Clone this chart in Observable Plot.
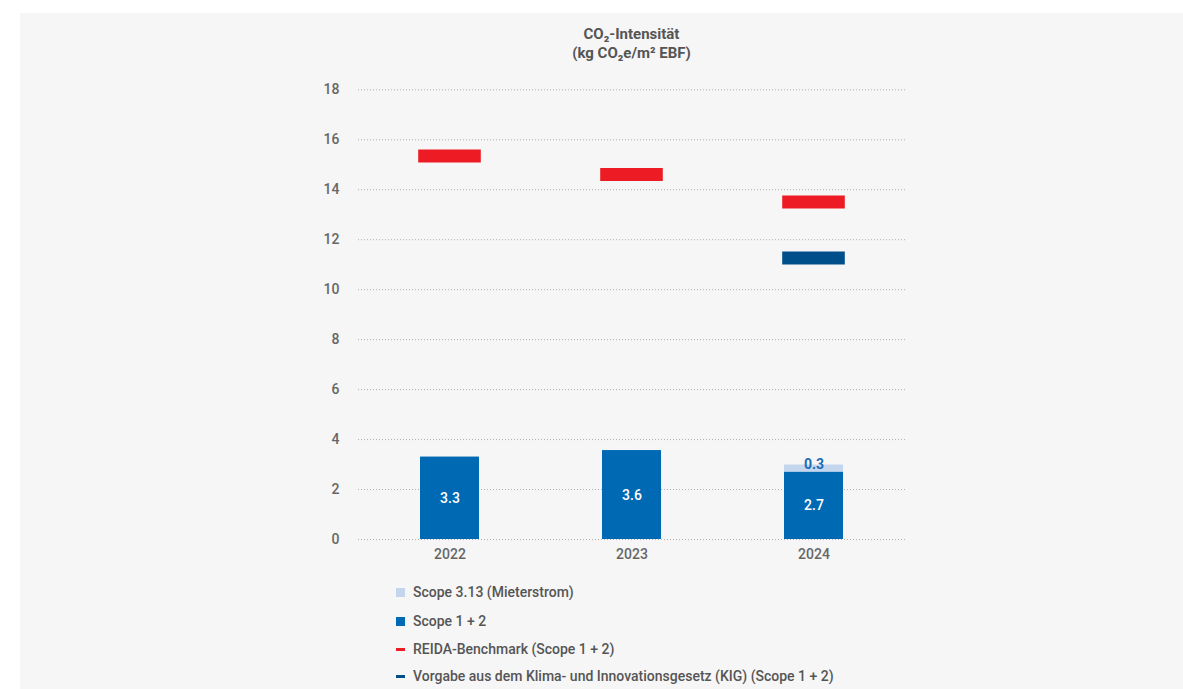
<!DOCTYPE html>
<html>
<head>
<meta charset="utf-8">
<script src="https://cdn.jsdelivr.net/npm/d3@7"></script>
<script src="https://cdn.jsdelivr.net/npm/@observablehq/plot@0.6"></script>
<style>
  html, body { margin: 0; padding: 0; background: #ffffff; }
  body { width: 1183px; height: 689px; overflow: hidden; position: relative; font-family: Roboto, "DejaVu Sans", sans-serif; }
  #panel { position: absolute; left: 20px; top: 13px; width: 1163px; height: 690px; background: #f6f6f6; }
  #title { position: absolute; left: 338px; width: 547px; top: 12px; text-align: center; font-size: 15px; line-height: 19px; font-weight: 700; color: #555; }
  #chart { position: absolute; left: 0; top: 62px; }
  .leg { position: absolute; left: 393px; font-size: 14px; font-weight: 500; color: #555; white-space: nowrap; line-height: 18px; }
  .sw { position: absolute; left: -17px; }
</style>
</head>
<body>
<div id="panel">
  <div id="title">CO₂-Intensität<br>(kg CO₂e/m² EBF)</div>
  <div id="chart"></div>
  <div id="legend"></div>
</div>
<script>
const years = ["2022", "2023", "2024"];
const scope12 = [3.30, 3.56, 2.70];
const scope313 = [null, null, 0.28];
const reida = [15.35, 14.61, 13.51];
const kig = [null, null, 11.27];
const yTicks = [0, 2, 4, 6, 8, 10, 12, 14, 16, 18];

const seriesNames = ["Scope 3.13 (Mieterstrom)", "Scope 1 + 2", "REIDA-Benchmark (Scope 1 + 2)", "Vorgabe aus dem Klima- und Innovationsgesetz (KIG) (Scope 1 + 2)"];
const seriesColors = ["#c4d5ee", "#0069b4", "#ed1c24", "#004f8a"];

const bars = [];
years.forEach((yr, i) => {
  bars.push({year: yr, series: seriesNames[1], value: scope12[i]});
  if (scope313[i] != null) bars.push({year: yr, series: seriesNames[0], value: scope313[i]});
});
const reidaData = years.map((yr, i) => ({year: yr, value: reida[i]}));
const kigData = years.map((yr, i) => ({year: yr, value: kig[i]})).filter(d => d.value != null);

const chart = Plot.plot({
  width: 1163,
  height: 494,
  marginLeft: 338,
  marginRight: 278,
  marginTop: 14.3,
  marginBottom: 30,
  style: {background: "transparent", fontFamily: "Roboto, sans-serif", fontSize: "14px", color: "#666", fontWeight: 500},
  x: {domain: years, paddingInner: 0.674, paddingOuter: 0.337, label: null, tickSize: 0, tickPadding: 10},
  y: {domain: [0, 18], ticks: yTicks, label: null, tickSize: 0, tickPadding: 19},
  color: {domain: seriesNames, range: seriesColors},
  marks: [
    Plot.gridY(yTicks, {stroke: "#b0b0b0", strokeOpacity: 1, strokeDasharray: "1,2"}),
    Plot.barY(bars, {x: "year", y: "value", fill: "series"}),
    Plot.text(bars, Plot.stackY({x: "year", y: "value", text: d => d.series === seriesNames[1] ? d.value.toFixed(1) : "", fill: "white", fontSize: 14, fontWeight: 500})),
    Plot.text(bars, Plot.stackY({x: "year", y: "value", text: d => d.series === seriesNames[0] ? d.value.toFixed(1) : "", fill: "#1a6cb8", fontSize: 14, fontWeight: 700, dy: -4})),
    Plot.tickY(reidaData, {x: "year", y: "value", stroke: seriesColors[2], strokeWidth: 13, insetLeft: -1.8, insetRight: -1.8}),
    Plot.tickY(kigData, {x: "year", y: "value", stroke: seriesColors[3], strokeWidth: 13, insetLeft: -1.8, insetRight: -1.8})
  ]
});
document.getElementById("chart").appendChild(chart);

// legend
const legend = document.getElementById("legend");
const rowTops = [570, 599, 627, 654];
seriesNames.forEach((name, i) => {
  const div = document.createElement("div");
  div.className = "leg";
  div.style.top = rowTops[i] + "px";
  const sw = document.createElement("span");
  sw.className = "sw";
  sw.style.background = seriesColors[i];
  if (i < 2) { sw.style.width = "9px"; sw.style.height = "9px"; sw.style.top = "4.5px"; }
  else { sw.style.width = "9px"; sw.style.height = "3px"; sw.style.top = "7.5px"; }
  div.appendChild(sw);
  div.appendChild(document.createTextNode(name));
  legend.appendChild(div);
});
</script>
</body>
</html>
